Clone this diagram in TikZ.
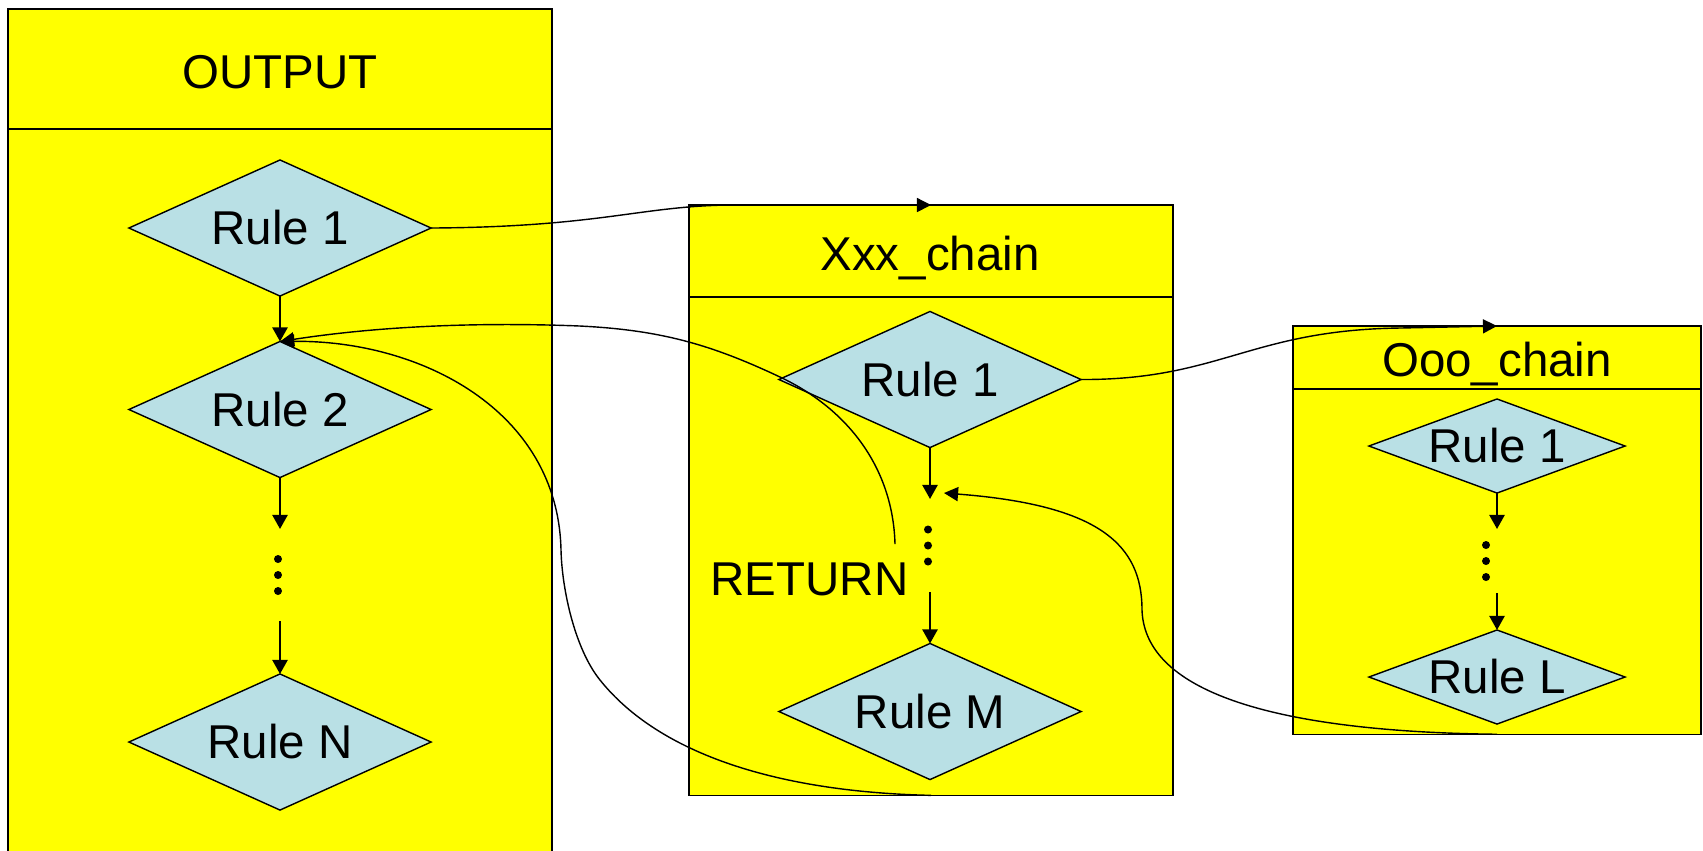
\documentclass[tikz,border=0pt]{standalone}
\usepackage{fontspec}
\setmainfont{Liberation Sans}
\usetikzlibrary{shapes.geometric,arrows.meta}
\definecolor{boxyellow}{HTML}{FFFF00}
\definecolor{rulefill}{HTML}{B9E0E5}

\begin{document}
\begin{tikzpicture}[x=0.01cm,y=-0.01cm,
  every node/.style={font=\fontsize{13.5pt}{15pt}\selectfont},
  chainbox/.style={draw, line width=0.4pt, fill=boxyellow, rectangle, inner sep=0pt, outer sep=0pt},
  rule/.style={draw, line width=0.4pt, fill=rulefill, shape=diamond, shape aspect=2.2,
    inner sep=0pt, outer sep=0pt, minimum width=3.02cm, minimum height=1.36cm},
  smallrule/.style={rule, shape aspect=2.7, minimum width=2.56cm, minimum height=0.94cm},
  gap/.style={inner sep=0pt, outer sep=0pt, minimum width=0.2cm},
  flow/.style={line width=0.6pt, -{Triangle[length=4pt,width=4.3pt]}},
  link/.style={line width=0.4pt, -{Triangle[length=4pt,width=4pt]}},
  title/.style={anchor=base, inner sep=0pt},
  sep/.style={line width=0.4pt},
  dot/.style={radius=0.04cm},
]
\useasboundingbox (0,0) rectangle (1703,850);
\clip (0,0) rectangle (1703,850);

% ---- OUTPUT chain (continues below the lower edge) ----
\node[chainbox, minimum width=5.44cm, minimum height=9.2cm, anchor=north] (outbox) at (280,9) {};
\draw[sep] (outbox.west |- 0,129) -- (outbox.east |- 0,129);
\node[title] (outtitle) at (280,88) {OUTPUT};
\node[rule] (o1) at (280,228) {Rule 1};
\node[rule] (o2) at (280,409.5) {Rule 2};
\node[gap, minimum height=0.92cm] (og) at (280,575) {};
\node[rule] (oN) at (280,742) {Rule N};
\draw[flow] (o1.south) -- (o2.north);
\draw[flow] (o2.south) -- (og.north);
\draw[flow] (og.south) -- (oN.north);
\foreach \dy in {-16,0,16} \fill (og.center) ++(-2,\dy) circle[dot];

% ---- Xxx_chain ----
\node[chainbox, minimum width=4.84cm, minimum height=5.9cm, anchor=north] (xbox) at (931,205) {};
\draw[sep] (xbox.west |- 0,297) -- (xbox.east |- 0,297);
\node[title] (xtitle) at (930,270) {Xxx\_chain};
\node[rule] (x1) at (930,379.5) {Rule 1};
\node[gap, minimum height=0.93cm] (xg) at (930,545.5) {};
\node[rule] (xM) at (930,711.5) {Rule M};
\draw[flow] (x1.south) -- (xg.north);
\draw[flow] (xg.south) -- (xM.north);
\foreach \dy in {-16,0,16} \fill (xg.center) ++(-2,\dy) circle[dot];
\node[title] (ret) at (809.5,595) {RETURN};

% ---- Ooo_chain ----
\node[chainbox, minimum width=4.08cm, minimum height=4.08cm, anchor=north] (obox) at (1497,326) {};
\draw[sep] (obox.west |- 0,389) -- (obox.east |- 0,389);
\node[title] (otitle) at (1497,376.7) {Ooo\_chain};
\node[smallrule] (q1) at (1497,446) {Rule 1};
\node[gap, minimum height=0.64cm] (qg) at (1497,561) {};
\node[smallrule] (qL) at (1497,677) {Rule L};
\draw[flow] (q1.south) -- (qg.north);
\draw[flow] (qg.south) -- (qL.north);
\foreach \dy in {-16,0,16} \fill (qg.center) ++(-11,\dy) circle[dot];

% ---- jumps and returns between chains ----
\coordinate (retstart) at (895,544);
\coordinate (backin) at (944,493);

\draw[link] (o1.east) .. controls (600,227) and (640,206) .. (730,205) -- (xbox.north);
\draw[link] (x1.east) .. controls (1220,380) and (1250,330) .. (1400,328) -- (obox.north);
\draw[link] (retstart) .. controls (893,470) and (850,410) .. (780,377)
  .. controls (710,344) and (660,330) .. (580,326)
  .. controls (480,322) and (380,326) .. (o2.north);
\draw[link] (xbox.south) .. controls (780,792) and (660,755) .. (600,680)
  .. controls (575,649) and (562,590) .. (561,550)
  .. controls (558,410) and (420,340) .. (o2.north);
\draw[link] (obox.south) .. controls (1300,732) and (1145,700) .. (1142,610)
  .. controls (1142,545) and (1100,505) .. (backin);
\end{tikzpicture}
\end{document}
